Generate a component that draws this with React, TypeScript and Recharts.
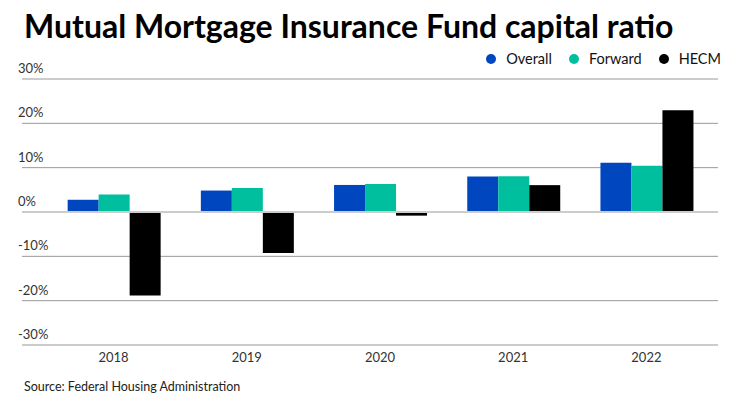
import React from "react";
import {
  BarChart, Bar, XAxis, YAxis, CartesianGrid, ReferenceLine
} from "recharts";

const YEARS = ["2018", "2019", "2020", "2021", "2022"];
const OVERALL = [2.76, 4.84, 6.1, 8.03, 11.11];
const FORWARD = [3.93, 5.44, 6.31, 8.05, 10.46];
const HECM = [-18.83, -9.22, -0.82, 6.06, 22.94];
const Y_TICKS = [-30, -20, -10, 0, 10, 20, 30];

const SERIES = [
  { key: "overall", name: "Overall", color: "#0047bf" },
  { key: "forward", name: "Forward", color: "#00bf9f" },
  { key: "hecm", name: "HECM", color: "#000000" },
];

const data = YEARS.map((year, i) => ({
  year,
  overall: OVERALL[i],
  forward: FORWARD[i],
  hecm: HECM[i],
}));

const FONT = "Lato, 'Noto Sans', sans-serif";

const YTick = (props: any) => {
  const { y, payload } = props;
  return (
    <text x={18} y={y - 6} fontSize={13} fill="#333" fontFamily={FONT} textAnchor="start">
      {payload.value}%
    </text>
  );
};

export default function App() {
  return (
    <div style={{ position: "absolute", left: 0, top: 0, width: 740, height: 416, background: "#fff" }}>
      <div style={{ position: "absolute", left: 24, top: 6, fontFamily: FONT, fontWeight: 700, fontSize: 32, color: "#000", whiteSpace: "nowrap" }}>
        Mutual Mortgage Insurance Fund capital ratio
      </div>
      <div style={{ position: "absolute", right: 19, top: 50, display: "flex", gap: 17, fontFamily: FONT, fontSize: 14.5, color: "#111" }}>
        {SERIES.map((s) => (
          <div key={s.key} style={{ display: "flex", alignItems: "center", gap: 10 }}>
            <span style={{ width: 10, height: 10, borderRadius: "50%", background: s.color, display: "inline-block" }} />
            <span>{s.name}</span>
          </div>
        ))}
      </div>
      <BarChart
        width={740}
        height={416}
        data={data}
        margin={{ top: 79, right: 22, bottom: 41, left: 21 }}
        barCategoryGap="15.5%"
        barGap={0}
      >
        <CartesianGrid vertical={false} stroke="#999" horizontalValues={[-20, -10, 10, 20]} />
        <ReferenceLine y={30} stroke="#ccc" strokeWidth={2} />
        <ReferenceLine y={-30} stroke="#ccc" strokeWidth={2} />
        <ReferenceLine y={0} stroke="#ccc" strokeWidth={2} />
        <XAxis
          dataKey="year"
          axisLine={false}
          tickLine={false}
          padding={{ left: 25, right: 5 }}
          height={30}
          tick={{ fontSize: 13, fill: "#333", fontFamily: FONT }}
        />
        <YAxis
          width={1}
          domain={[-30, 30]}
          ticks={Y_TICKS}
          axisLine={false}
          tickLine={false}
          tick={<YTick />}
        />
        {SERIES.map((s) => (
          <Bar key={s.key} dataKey={s.key} name={s.name} fill={s.color} isAnimationActive={false} />
        ))}
      </BarChart>
      <div style={{ position: "absolute", left: 24, top: 379, fontFamily: FONT, fontSize: 12.5, color: "#222" }}>
        Source: Federal Housing Administration
      </div>
    </div>
  );
}
